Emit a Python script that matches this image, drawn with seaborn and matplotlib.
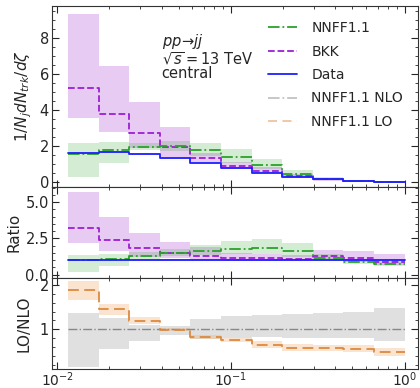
import numpy as np
import pandas as pd
import seaborn as sns
import matplotlib
matplotlib.use("Agg")
import matplotlib.pyplot as plt
import matplotlib.ticker as ticker
from matplotlib.lines import Line2D

# bin edges in zeta (log spaced, factor 1.5)
edges = [0.01156, 0.01734, 0.02601, 0.03902, 0.05853, 0.08779,
         0.1317, 0.1975, 0.2963, 0.4444, 0.6667, 1.0]

# top panel: 1/N_j dN_trk/dzeta
data_val = [1.63, 1.68, 1.57, 1.35, 1.10, 0.79, 0.53, 0.32, 0.17, 0.08, 0.035]
data_lo = [1.58, 1.63, 1.52, 1.30, 1.06, 0.75, 0.50, 0.30, 0.15, 0.07, 0.025]
data_hi = [1.68, 1.73, 1.62, 1.40, 1.14, 0.83, 0.56, 0.34, 0.19, 0.09, 0.045]
nnff_val = [1.59, 1.82, 1.99, 2.03, 1.79, 1.42, 0.96, 0.47, 0.20, 0.07, 0.025]
nnff_lo = [0.27, 1.06, 1.80, 1.75, 1.45, 1.10, 0.75, 0.35, 0.12, 0.05, 0.02]
nnff_hi = [2.17, 2.25, 2.20, 2.30, 2.20, 1.85, 1.28, 0.66, 0.27, 0.12, 0.06]
bkk_val = [5.26, 3.82, 2.76, 1.98, 1.37, 0.93, 0.62, 0.35, 0.20, 0.09, 0.03]
bkk_lo = [3.60, 2.78, 1.90, 1.40, 1.15, 0.75, 0.50, 0.25, 0.10, 0.03, 0.01]
bkk_hi = [9.33, 6.45, 4.45, 3.05, 1.65, 1.15, 0.85, 0.45, 0.20, 0.10, 0.05]

# middle panel: ratio to data
r_data_lo = [0.95] * 11
r_data_hi = [1.05] * 11
r_nnff_val = [0.98, 1.11, 1.31, 1.52, 1.66, 1.79, 1.86, 1.61, 1.18, 0.90, 0.70]
r_nnff_lo = [0.18, 0.59, 1.00, 1.30, 1.35, 1.40, 1.40, 1.20, 0.95, 0.72, 0.57]
r_nnff_hi = [1.32, 1.40, 1.55, 1.75, 2.07, 2.34, 2.45, 2.16, 1.45, 1.10, 0.85]
r_bkk_val = [3.25, 2.36, 1.81, 1.52, 1.27, 1.16, 1.13, 1.10, 1.25, 1.16, 0.90]
r_bkk_lo = [2.20, 1.66, 1.20, 1.15, 1.00, 0.95, 0.95, 0.95, 1.00, 0.90, 0.65]
r_bkk_hi = [5.72, 3.97, 2.88, 2.27, 1.90, 1.50, 1.40, 1.35, 1.72, 1.65, 1.40]

# bottom panel: LO / NLO
nlo_val = [1.0] * 11
nlo_lo = [0.15, 0.55, 0.73, 0.88, 0.78, 0.81, 0.82, 0.81, 0.81, 0.81, 0.73]
nlo_hi = [1.36, 1.25, 1.09, 1.08, 1.23, 1.29, 1.33, 1.35, 1.36, 1.38, 1.49]
lo_val = [1.88, 1.45, 1.19, 0.99, 0.83, 0.75, 0.65, 0.58, 0.57, 0.55, 0.48]
lo_lo = [1.67, 1.32, 1.12, 0.95, 0.78, 0.70, 0.58, 0.50, 0.50, 0.48, 0.39]
lo_hi = [2.10, 1.58, 1.27, 1.03, 0.88, 0.80, 0.73, 0.66, 0.65, 0.64, 0.58]

GREEN = "#2ca02c"
PURPLE = "#9b1fd6"
BLUE = "#1f1fff"
GRAY = "#888888"
ORANGE = "#dd8a40"


def step_df(vals):
    # repeat last value so the step reaches the last edge
    return pd.DataFrame({"x": edges, "y": list(vals) + [vals[-1]]})


def draw_series(ax, vals, lo, hi, color, band_color, alpha, ls, lw=1.3, dashes=None):
    ax.fill_between(edges, list(lo) + [lo[-1]], list(hi) + [hi[-1]],
                    step="post", color=band_color, alpha=alpha, lw=0)
    line = sns.lineplot(data=step_df(vals), x="x", y="y", ax=ax, color=color,
                        drawstyle="steps-post", lw=lw, linestyle=ls)
    if dashes is not None:
        line.lines[-1].set_dashes(dashes)


sns.set_style("ticks", {"xtick.direction": "in", "ytick.direction": "in",
                        "xtick.top": True, "ytick.right": True,
                        "axes.edgecolor": "#333333"})
plt.rcParams["font.family"] = ["DejaVu Sans"]
plt.rcParams["font.size"] = 11
plt.rcParams["xtick.minor.visible"] = True
plt.rcParams["ytick.minor.visible"] = True

fig, axes = plt.subplots(3, 1, figsize=(4.2, 3.88), dpi=100, sharex=True,
                         gridspec_kw={"height_ratios": [2, 1, 1], "hspace": 0})
fig.subplots_adjust(left=0.123, right=0.996, top=0.985, bottom=0.05)
ax1, ax2, ax3 = axes

# top panel
draw_series(ax1, bkk_val, bkk_lo, bkk_hi, PURPLE, "#c77fe0", 0.4, "--")
draw_series(ax1, nnff_val, nnff_lo, nnff_hi, GREEN, GREEN, 0.2, "-.")
draw_series(ax1, data_val, data_lo, data_hi, BLUE, BLUE, 0.15, "-")
ax1.set_ylim(-0.27, 9.8)
ax1.yaxis.set_major_locator(ticker.MultipleLocator(2))
ax1.set_ylabel(r"$1/N_j dN_{trk}/d\zeta$", fontsize=11, labelpad=4)
ax1.text(0.30, 0.72, r"$pp\!\to\! jj$" + "\n" + r"$\sqrt{s}=13$ TeV" + "\ncentral",
         transform=ax1.transAxes, fontsize=10.5, va="center", ha="left",
         linespacing=0.95)

handles = [
    Line2D([], [], color=GREEN, ls="-.", lw=1.3),
    Line2D([], [], color=PURPLE, ls="--", lw=1.3),
    Line2D([], [], color=BLUE, ls="-", lw=1.3),
    Line2D([], [], color=GRAY, ls="-.", lw=1.3, alpha=0.5),
    Line2D([], [], color=ORANGE, ls=(0, (5, 3)), lw=1.3, alpha=0.5),
]
labels = ["NNFF1.1", "BKK", "Data", "NNFF1.1 NLO", "NNFF1.1 LO"]
ax1.legend(handles, labels, loc="upper right", frameon=False, fontsize=10,
           handlelength=2.1, handletextpad=1.0, borderaxespad=0.7,
           labelspacing=0.68)

# ratio panel
draw_series(ax2, r_bkk_val, r_bkk_lo, r_bkk_hi, PURPLE, "#c77fe0", 0.4, "--")
draw_series(ax2, r_nnff_val, r_nnff_lo, r_nnff_hi, GREEN, GREEN, 0.2, "-.")
draw_series(ax2, [1.0] * 11, r_data_lo, r_data_hi, BLUE, BLUE, 0.15, "-")
ax2.set_ylim(-0.23, 6.04)
ax2.set_yticks([0.0, 2.5, 5.0])
ax2.yaxis.set_major_formatter(ticker.FormatStrFormatter("%.1f"))
ax2.set_ylabel("Ratio", fontsize=11, labelpad=3)

# LO / NLO panel
draw_series(ax3, nlo_val, nlo_lo, nlo_hi, GRAY, "#bbbbbb", 0.45, "-.", lw=1.0)
draw_series(ax3, lo_val, lo_lo, lo_hi, ORANGE, "#f0a860", 0.3, "--", dashes=(6, 3))
ax3.set_ylim(0.11, 2.16)
ax3.set_yticks([1, 2])
ax3.set_ylabel("LO/NLO", fontsize=11, labelpad=6)

for ax in axes:
    ax.set_xscale("log")
    ax.set_xlim(0.0093, 1.2)
    ax.set_xlabel("")
    ax.yaxis.set_minor_locator(ticker.AutoMinorLocator())
    ax.tick_params(which="both", direction="in", top=True, right=True, pad=2,
                   labelsize=10.5)
    ax.tick_params(which="major", length=5)
    ax.tick_params(which="minor", length=2.5)
ax3.tick_params(axis="x", pad=1, labelsize=10)

fig.savefig("out.png", dpi=100)
